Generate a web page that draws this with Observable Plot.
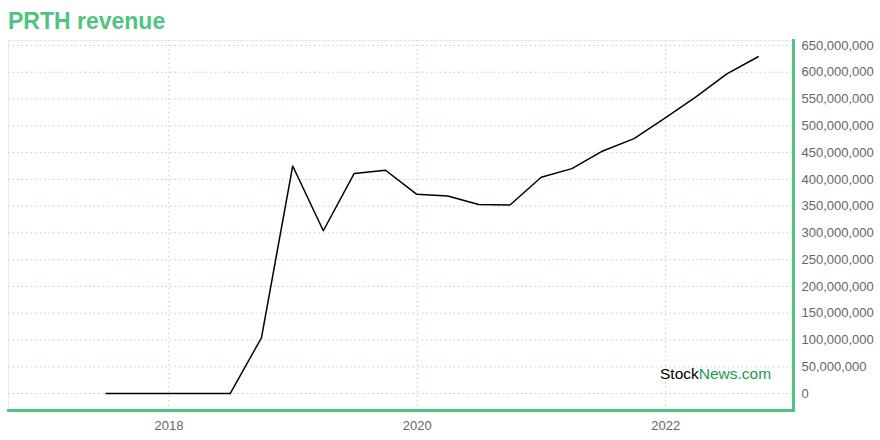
<!DOCTYPE html>
<html>
<head>
<meta charset="utf-8">
<script src="https://cdn.jsdelivr.net/npm/d3@7"></script>
<script src="https://cdn.jsdelivr.net/npm/@observablehq/plot@0.6"></script>
<style>
  html, body { margin: 0; padding: 0; background: #fff; }
  #wrap { position: relative; width: 880px; height: 440px; overflow: hidden; font-family: "Liberation Sans", Arial, sans-serif; }
  #title { height: 36px; margin: 0; padding: 0 0 0 8px; font-size: 23px; font-weight: bold; color: #4fc47f; line-height: 36px; box-sizing: border-box; padding-top: 3px; }
  #wm { position: absolute; left: 660px; top: 366px; font-size: 15.5px; line-height: 15px; white-space: nowrap; }
  #wm .a { color: #000; }
  #wm .b { color: #1a9a46; }
</style>
</head>
<body>
<div id="wrap">
  <div id="title">PRTH revenue</div>
  <div id="chart"></div>
  <div id="wm"><span class="a">Stock</span><span class="b">News.com</span></div>
</div>
<script>
const dates = ["2017-06-30","2017-09-30","2017-12-31","2018-03-31","2018-06-30","2018-09-30","2018-12-31","2019-03-31","2019-06-30","2019-09-30","2019-12-31","2020-03-31","2020-06-30","2020-09-30","2020-12-31","2021-03-31","2021-06-30","2021-09-30","2021-12-31","2022-03-31","2022-06-30","2022-09-30"];
const revenue = [0,0,0,0,0,104e6,425e6,304e6,411e6,417e6,372e6,369e6,353e6,352e6,404e6,420e6,453e6,476e6,515e6,554e6,597e6,629e6];
const yTicks = [0,50e6,100e6,150e6,200e6,250e6,300e6,350e6,400e6,450e6,500e6,550e6,600e6,650e6];
const xTicks = ["2018-01-01","2020-01-01","2022-01-01"];
const xDomain = ["2016-09-16","2023-01-12"];
const yDomain = [-31.7e6, 659.3e6];

const data = dates.map((d, i) => ({date: new Date(d), value: revenue[i]}));
const xt = xTicks.map(d => new Date(d));
const green = "#52c47f";
const gridColor = "#a6dcc0";

const chart = Plot.plot({
  width: 880,
  height: 404,
  marginTop: 4,
  marginBottom: 30,
  marginLeft: 8,
  marginRight: 87,
  style: {fontFamily: "'Liberation Sans', Arial, sans-serif", fontSize: "13px", background: "#fff"},
  x: {type: "utc", domain: xDomain.map(d => new Date(d))},
  y: {domain: yDomain},
  marks: [
    Plot.frame({stroke: "#ececec", strokeWidth: 1}),
    Plot.gridY(yTicks, {stroke: gridColor, strokeOpacity: 1, strokeDasharray: "1.5,3", strokeWidth: 1}),
    Plot.gridX(xt, {stroke: gridColor, strokeOpacity: 1, strokeDasharray: "1.5,3", strokeWidth: 1}),
    Plot.line(data, {x: "date", y: "value", stroke: "#000", strokeWidth: 1.5}),
    Plot.axisY(yTicks, {anchor: "right", tickSize: 0, tickPadding: 8, fill: "#666", fontSize: 13, tickFormat: d => d3.format(",")(d), label: null}),
    Plot.axisX(xt, {anchor: "bottom", tickSize: 0, tickPadding: 10, fill: "#666", fontSize: 13, tickFormat: d => d3.utcFormat("%Y")(d), label: null}),
    Plot.frame({anchor: "right", stroke: green, strokeWidth: 3}),
    Plot.frame({anchor: "bottom", stroke: green, strokeWidth: 3})
  ]
});
document.getElementById("chart").appendChild(chart);
</script>
</body>
</html>
